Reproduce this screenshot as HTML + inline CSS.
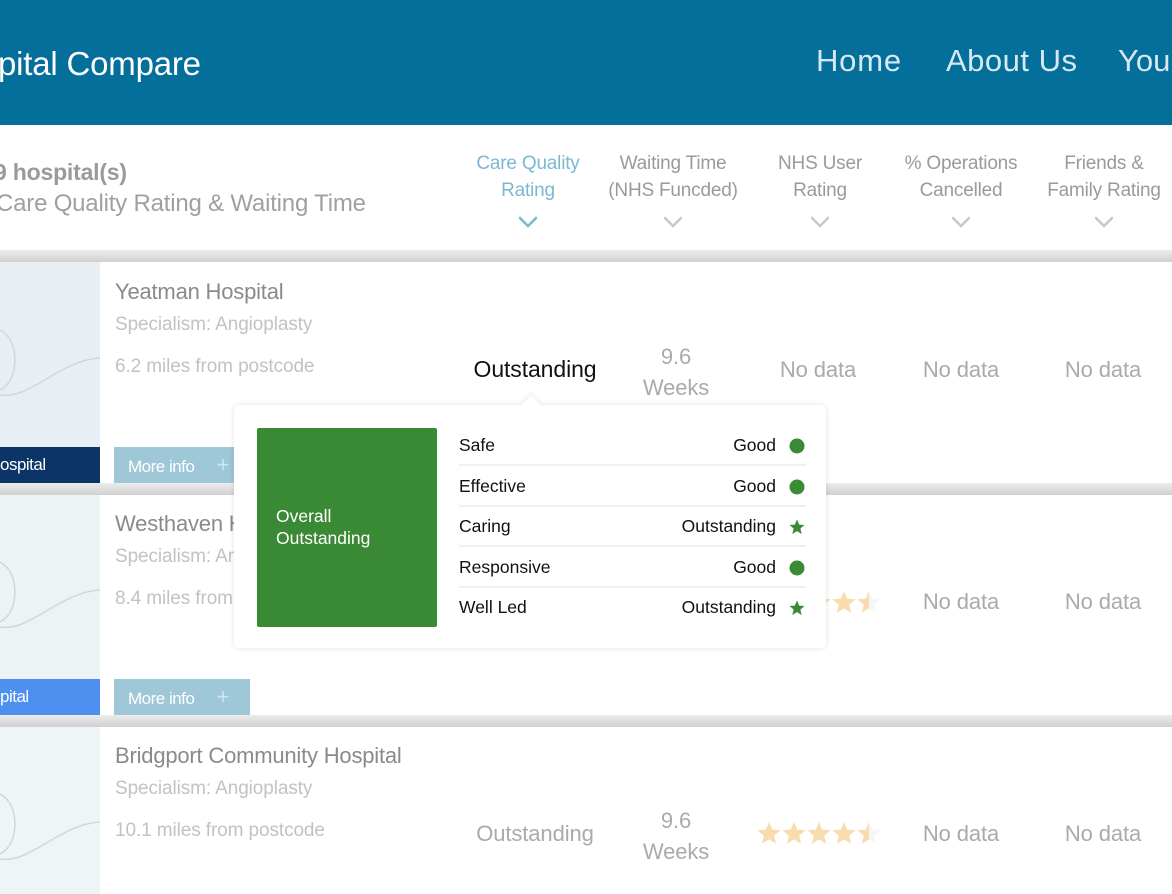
<!DOCTYPE html>
<html><head><meta charset="utf-8"><style>
*{margin:0;padding:0;box-sizing:border-box}
body{width:1172px;height:894px;overflow:hidden;background:#fff;font-family:"Liberation Sans",sans-serif;position:relative}
.a{position:absolute;white-space:nowrap}
.c{transform:translateX(-50%);text-align:center}
.hdr{font-size:19px;color:#9a9a9a;letter-spacing:-0.2px;line-height:27px}
.nd{font-size:22px;color:#aaa;letter-spacing:-0.1px}
.sep{position:absolute;left:0;width:1172px;height:12px;background:linear-gradient(#ececec,#d0d0d0)}
.name{font-size:22px;color:#8a8a8a;letter-spacing:-0.2px}
.sub{font-size:19px;color:#c2c2c2;letter-spacing:-0.1px}
.btn{position:absolute;height:36px;color:#fff;font-size:17px;line-height:36px;letter-spacing:-0.5px}
.tr{position:absolute;left:459px;width:347px;height:41px;font-size:17.5px;color:#111;line-height:41px}
.tr .v{position:absolute;right:30px;top:0}
.tr .i{position:absolute;right:1px;top:13px;width:16px;height:16px}
</style></head><body>
<div class="a" style="left:0;top:0;width:1172px;height:125px;background:#046f9a"></div>
<div class="a" style="left:-2px;top:45px;font-size:33px;color:#fff;letter-spacing:-0.2px">pital Compare</div>
<div class="a" style="left:816px;top:43px;font-size:31px;color:#d6e9f1;letter-spacing:0.8px">Home</div>
<div class="a" style="left:946px;top:43px;font-size:31px;color:#d6e9f1;letter-spacing:0.5px">About Us</div>
<div class="a" style="left:1118px;top:43px;font-size:31px;color:#d6e9f1">You</div>

<div class="a" style="left:-6px;top:159px;font-size:23px;font-weight:bold;color:#9a9a9a;letter-spacing:-0.2px">9 hospital(s)</div>
<div class="a" style="left:-4px;top:190px;font-size:24px;color:#a0a0a0;letter-spacing:-0.2px">Care Quality Rating &amp; Waiting Time</div>

<div class="a c hdr" style="left:528px;top:150px;color:#7ab8d3">Care Quality<br>Rating</div>
<div class="a c hdr" style="left:673px;top:150px">Waiting Time<br>(NHS Funcded)</div>
<div class="a c hdr" style="left:820px;top:150px">NHS User<br>Rating</div>
<div class="a c hdr" style="left:961px;top:150px">% Operations<br>Cancelled</div>
<div class="a c hdr" style="left:1104px;top:150px">Friends &amp;<br>Family Rating</div>
<svg class="a" style="left:0;top:0" width="1172" height="240">
<g fill="none" stroke-width="2.5" stroke-linecap="round">
<polyline points="520,218 528,226 536,218" stroke="#7ab8d3"/>
<polyline points="665,218 673,226 681,218" stroke="#c8c8c8"/>
<polyline points="812,218 820,226 828,218" stroke="#c8c8c8"/>
<polyline points="953,218 961,226 969,218" stroke="#c8c8c8"/>
<polyline points="1096,218 1104,226 1112,218" stroke="#c8c8c8"/>
</g></svg>

<div class="sep" style="top:250px"></div>
<div class="sep" style="top:483px"></div>
<div class="sep" style="top:715px"></div>

<div class="a" style="left:0;top:262px;width:100px;height:221px;background:#e7eff5"></div>
<div class="a" style="left:0;top:495px;width:100px;height:220px;background:#ebf3f5"></div>
<div class="a" style="left:0;top:727px;width:100px;height:167px;background:#eef5f6"></div>
<svg class="a" style="left:0;top:0" width="100" height="894">
<g fill="none" stroke="#cdd8df" stroke-width="1.5">
<path d="M0,330 C20,340 20,380 0,390 M0,395 C30,400 60,360 100,358"/>
<path d="M0,562 C20,572 20,612 0,622 M0,627 C30,632 60,592 100,590"/>
<path d="M0,794 C20,804 20,844 0,854 M0,859 C30,864 60,824 100,822"/>
</g></svg>
<div class="btn" style="left:0;top:447px;width:100px;background:#0b3566">ospital</div>
<div class="btn" style="left:0;top:679px;width:100px;background:#4e90f0">pital</div>
<div class="btn" style="left:114px;top:447px;width:136px;background:#9ec7d8;padding-left:14px">More info <span style="margin-left:18px;color:#cfe4ec;font-size:22px">+</span></div>
<div class="btn" style="left:114px;top:679px;width:136px;background:#9ec7d8;padding-left:14px">More info <span style="margin-left:18px;color:#cfe4ec;font-size:22px">+</span></div>

<div class="a name" style="left:115px;top:279px">Yeatman Hospital</div>
<div class="a sub" style="left:115px;top:314px">Specialism: Angioplasty</div>
<div class="a sub" style="left:115px;top:356px">6.2 miles from postcode</div>
<div class="a c" style="left:535px;top:356px;font-size:23px;color:#111;letter-spacing:-0.1px">Outstanding</div>
<div class="a c nd" style="left:676px;top:341px;line-height:31px">9.6<br>Weeks</div>
<div class="a c nd" style="left:818px;top:357px">No data</div>
<div class="a c nd" style="left:961px;top:357px">No data</div>
<div class="a c nd" style="left:1103px;top:357px">No data</div>

<div class="a name" style="left:115px;top:511px">Westhaven Hospital</div>
<div class="a sub" style="left:115px;top:546px">Specialism: Angioplasty</div>
<div class="a sub" style="left:115px;top:588px">8.4 miles from postcode</div>
<div class="a c nd" style="left:961px;top:589px">No data</div>
<div class="a c nd" style="left:1103px;top:589px">No data</div>

<div class="a name" style="left:115px;top:743px">Bridgport Community Hospital</div>
<div class="a sub" style="left:115px;top:778px">Specialism: Angioplasty</div>
<div class="a sub" style="left:115px;top:820px">10.1 miles from postcode</div>
<div class="a c nd" style="left:535px;top:821px">Outstanding</div>
<div class="a c nd" style="left:676px;top:805px;line-height:31px">9.6<br>Weeks</div>
<div class="a c nd" style="left:961px;top:821px">No data</div>
<div class="a c nd" style="left:1103px;top:821px">No data</div>

<svg id="stars" class="a" style="left:0;top:0" width="1172" height="894"></svg>

<div class="a" style="left:234px;top:405px;width:592px;height:243px;background:#fff;border-radius:5px;box-shadow:0 0 6px rgba(0,0,0,0.12)"></div>
<div class="a" style="left:524px;top:398px;width:14px;height:14px;background:#fff;transform:rotate(45deg);box-shadow:-2px -2px 3px rgba(0,0,0,0.06)"></div>
<div class="a" style="left:257px;top:428px;width:180px;height:199px;background:#398935;border-radius:2px"></div>
<div class="a" style="left:276px;top:505px;font-size:17.5px;color:#fff;line-height:22px">Overall<br>Outstanding</div>
<div id="trs"></div>

<script>
const categories=["Safe","Effective","Caring","Responsive","Well Led"];
const ratings=["Good","Good","Outstanding","Good","Outstanding"];
const starRows=[603,834];
const starValues=[4.5,4.5];
const NS="http://www.w3.org/2000/svg";
const trs=document.getElementById('trs');
categories.forEach((c,i)=>{
  const d=document.createElement('div');
  d.className='tr';
  
  
  d.style.top=(425+i*40.5)+'px';
  if(i<categories.length-1) d.style.borderBottom='2px solid #f0f0f0';
  const ic=ratings[i]==="Good"
    ?'<svg class="i" viewBox="0 0 16 16"><circle cx="8" cy="8" r="7.5" fill="#3a8a36"/></svg>'
    :'<svg class="i" viewBox="0 0 16 16"><polygon points="8,0.5 10.2,5.6 15.5,6 11.4,9.5 12.7,15 8,12.1 3.3,15 4.6,9.5 0.5,6 5.8,5.6" fill="#3a8a36"/></svg>';
  d.innerHTML='<span>'+c+'</span><span class="v">'+ratings[i]+'</span>'+ic;
  trs.appendChild(d);
});
const svg=document.getElementById('stars');
const x0=757, step=25, r=12;
function starPts(cx,cy){let p=[];for(let k=0;k<10;k++){const a=-Math.PI/2+k*Math.PI/5;const rr=k%2?r*0.45:r;p.push((cx+rr*Math.cos(a)).toFixed(1)+','+(cy+rr*Math.sin(a)).toFixed(1));}return p.join(' ');}
starRows.forEach((y,ri)=>{
  const v=starValues[ri];
  for(let s=0;s<5;s++){
    const cx=x0+12+s*step;
    const bg=document.createElementNS(NS,'polygon');
    bg.setAttribute('points',starPts(cx,y));
    bg.setAttribute('fill','#f6f6f6');
    
    
    svg.appendChild(bg);
    const f=Math.max(0,Math.min(1,v-s));
    if(f>0){
      const id='cp'+ri+'_'+s;
      const cp=document.createElementNS(NS,'clipPath');cp.setAttribute('id',id);
      const rc=document.createElementNS(NS,'rect');
      rc.setAttribute('x',cx-r);rc.setAttribute('y',y-r);rc.setAttribute('width',2*r*f);rc.setAttribute('height',2*r);
      cp.appendChild(rc);svg.appendChild(cp);
      const p=document.createElementNS(NS,'polygon');
      p.setAttribute('points',starPts(cx,y));
      p.setAttribute('fill','#f8dcae');
      p.setAttribute('clip-path','url(#'+id+')');
      
      
      svg.appendChild(p);
    }
  }
});
</script>
</body></html>
